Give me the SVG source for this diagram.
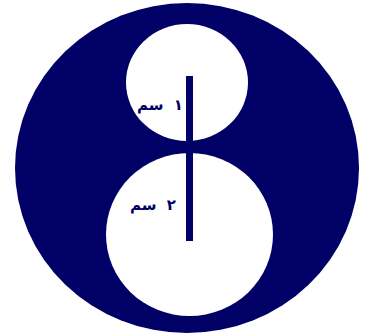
<svg xmlns="http://www.w3.org/2000/svg" width="374" height="336" viewBox="0 0 374 336">
<style>
.hole{fill:#ffffff}
.lbl{font-family:"DejaVu Sans","Noto Sans",sans-serif;font-size:15px;font-weight:bold;fill:#000066;word-spacing:5px}
</style>
<rect width="374" height="336" fill="#ffffff"/>
<g id="outer"><ellipse cx="187" cy="168" rx="172" ry="165" fill="#000066"/></g>
<g id="small-circle"><ellipse class="hole" cx="187" cy="82.5" rx="61" ry="58.5"/></g>
<g id="large-circle"><ellipse class="hole" cx="189.5" cy="234.5" rx="83.5" ry="81.5"/></g>
<g id="connectors"><rect x="186" y="76" width="7" height="165" fill="#000066"/></g>
<g id="label1"><text class="lbl" x="183" y="110" text-anchor="end">١ سم</text></g>
<g id="label2"><text class="lbl" x="176" y="210" text-anchor="end">٢ سم</text></g>
</svg>
